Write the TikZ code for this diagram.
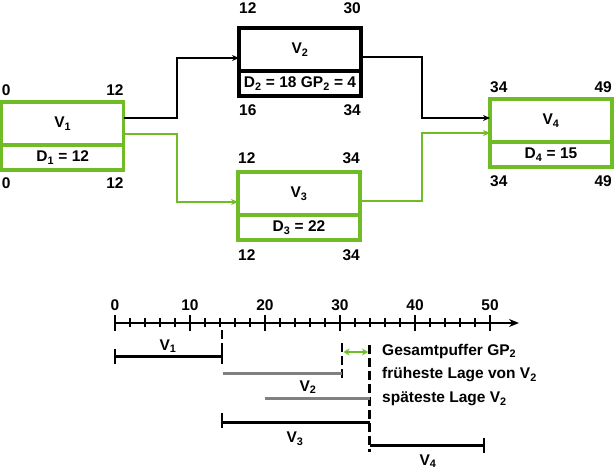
\documentclass[tikz,border=0pt]{standalone}
\usepackage{fontspec}
\setmainfont{Liberation Sans}
\usetikzlibrary{arrows.meta}
\definecolor{grn}{RGB}{112,188,38}
\definecolor{gry}{RGB}{128,128,128}
\begin{document}
\begin{tikzpicture}[x=1pt,y=-1pt,
  font=\bfseries\fontsize{15.5}{18}\selectfont,
  box/.style={draw, line width=3.2pt, minimum width=122pt, outer sep=0pt, inner sep=0pt},
  topbox/.style={box, minimum height=43pt},
  botbox/.style={box, minimum height=25pt},
  lbl/.style={inner sep=0pt},
  conn/.style={line width=1.6pt, -{Stealth[length=7pt,width=6pt]}},
  bar/.style={line width=3pt},
  endtick/.style={line width=2.2pt},
  guidedash/.style={line width=2.2pt, dash pattern=on 9pt off 4pt},
]
\useasboundingbox (0,0) rectangle (614,470);

% ---- activity boxes
\node[topbox, draw=grn, anchor=north west] (v1) at (1.7,102) {V\textsubscript{1}};
\node[botbox, draw=grn, anchor=north] (d1) at (v1.south) {D\textsubscript{1} = 12};
\node[topbox, draw=black, anchor=north west] (v2) at (239,28) {V\textsubscript{2}};
\node[botbox, draw=black, anchor=north] (d2) at (v2.south) {D\textsubscript{2} = 18 GP\textsubscript{2} = 4};
\node[topbox, draw=grn, anchor=north west] (v3) at (238,172) {V\textsubscript{3}};
\node[botbox, draw=grn, anchor=north] (d3) at (v3.south) {D\textsubscript{3} = 22};
\node[topbox, draw=grn, anchor=north west] (v4) at (490,99) {V\textsubscript{4}};
\node[botbox, draw=grn, anchor=north] (d4) at (v4.south) {D\textsubscript{4} = 15};

% ---- time labels
\node[lbl, anchor=west] (v1tl) at ([yshift=12pt]v1.north west) {0};
\node[lbl, anchor=east] (v1tr) at ([yshift=12pt]v1.north east) {12};
\node[lbl, anchor=west] (v1bl) at ([yshift=-13pt]d1.south west) {0};
\node[lbl, anchor=east] (v1br) at ([yshift=-13pt]d1.south east) {12};
\node[lbl, anchor=west] (v2tl) at ([yshift=20pt]v2.north west) {12};
\node[lbl, anchor=east] (v2tr) at ([yshift=20pt]v2.north east) {30};
\node[lbl, anchor=west] (v2bl) at ([yshift=-14pt]d2.south west) {16};
\node[lbl, anchor=east] (v2br) at ([yshift=-14pt]d2.south east) {34};
\node[lbl, anchor=west] (v3tl) at ([yshift=14pt]v3.north west) {12};
\node[lbl, anchor=east] (v3tr) at ([yshift=14pt]v3.north east) {34};
\node[lbl, anchor=west] (v3bl) at ([yshift=-15pt]d3.south west) {12};
\node[lbl, anchor=east] (v3br) at ([yshift=-15pt]d3.south east) {34};
\node[lbl, anchor=west] (v4tl) at ([yshift=12pt]v4.north west) {34};
\node[lbl, anchor=east] (v4tr) at ([yshift=12pt]v4.north east) {49};
\node[lbl, anchor=west] (v4bl) at ([yshift=-14pt]d4.south west) {34};
\node[lbl, anchor=east] (v4br) at ([yshift=-14pt]d4.south east) {49};

% ---- connectors
\draw[conn] ([yshift=-16pt]v1.north east) -- ++(53,0) |- ([yshift=-30pt]v2.north west);
\draw[conn, grn] ([yshift=-32pt]v1.north east) -- ++(53,0) |- ([yshift=-30pt]v3.north west);
\draw[conn] ([yshift=-29pt]v2.north east) -- ++(61,0) |- ([yshift=-19pt]v4.north west);
\draw[conn, grn] ([yshift=-29pt]v3.north east) -- ++(62,0) |- ([yshift=-34pt]v4.north west);

% ---- time axis
\coordinate (ax0) at (115,323);
\coordinate (axend) at (519,323);
\draw[line width=2.8pt, -{Stealth[length=10pt,width=8pt]}] (ax0) -- (axend);
\foreach \u in {0,10,...,50} {
  \draw[line width=2.4pt] ({115+7.5*\u},315) -- ({115+7.5*\u},331);
  \node[lbl] (t\u) at ({115+7.5*\u},305) {\u};
}
\foreach \u in {2,4,6,8,12,14,16,18,22,24,26,28,32,34,36,38,42,44,46,48} {
  \draw[line width=2.2pt] ({115+7.5*\u},318.5) -- ({115+7.5*\u},327.5);
}

% ---- dashed guide lines
\coordinate (d14a) at (222,330);
\coordinate (d14b) at (222,360);
\coordinate (d30a) at (342,343);
\coordinate (d30b) at (342,380);
\coordinate (d34a) at (369.5,345);
\coordinate (d34b) at (369.5,452);
\draw[guidedash] (d14a) -- (d14b);
\draw[guidedash] (d30a) -- (d30b);
\draw[guidedash] (d34a) -- (d34b);

% ---- bars
\coordinate (b1a) at (115,357);
\coordinate (b1b) at (222,357);
\draw[bar] (b1a) -- (b1b);
\draw[endtick] (115,349) -- (115,364);
\draw[endtick] (222,349) -- (222,364);
\node[lbl] (b1l) at (168,346) {V\textsubscript{1}};

\coordinate (e2a) at (223,374);
\coordinate (e2b) at (342,374);
\draw[bar, gry] (e2a) -- (e2b);
\node[lbl] (b2l) at (308,387) {V\textsubscript{2}};
\coordinate (l2a) at (265,399);
\coordinate (l2b) at (369.5,399);
\draw[bar, gry] (l2a) -- (l2b);

\coordinate (b3a) at (222,423);
\coordinate (b3b) at (369.5,423);
\draw[bar] (b3a) -- (b3b);
\draw[endtick] (222,413) -- (222,428);
\node[lbl] (b3l) at (295,439) {V\textsubscript{3}};

\coordinate (b4a) at (369.5,446);
\coordinate (b4b) at (484,446);
\draw[bar] (b4a) -- (b4b);
\draw[endtick] (484,438) -- (484,453);
\node[lbl] (b4l) at (428,461) {V\textsubscript{4}};

% ---- buffer arrow and legend texts
\coordinate (gpa) at (343.5,352);
\coordinate (gpb) at (368,352);
\draw[grn, line width=2pt, {Stealth[length=6pt,width=7pt]}-{Stealth[length=6pt,width=7pt]}] (gpa) -- (gpb);
\node[lbl, anchor=west] (txgp) at (382,351) {Gesamtpuffer GP\textsubscript{2}};
\node[lbl, anchor=west] (txfr) at (382,375) {früheste Lage von V\textsubscript{2}};
\node[lbl, anchor=west] (txsp) at (382,399) {späteste Lage V\textsubscript{2}};
\end{tikzpicture}
\end{document}
